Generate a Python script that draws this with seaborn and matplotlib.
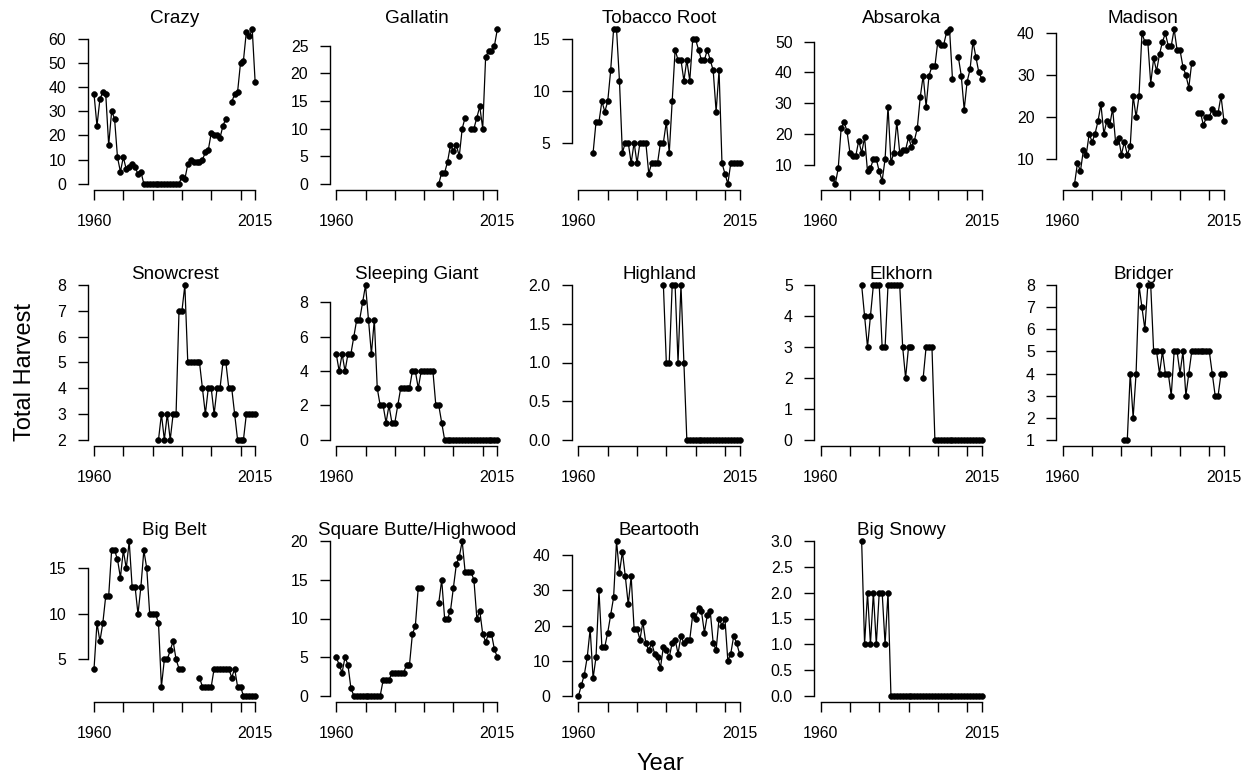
import numpy as np
import pandas as pd
import matplotlib
matplotlib.use("Agg")
import matplotlib.pyplot as plt
import seaborn as sns

nan = np.nan

# ---------------------------------------------------------------------------
# Data: annual total harvest per mountain range
# ---------------------------------------------------------------------------
mountains = ["Crazy", "Gallatin", "Tobacco Root", "Absaroka", "Madison",
             "Snowcrest", "Sleeping Giant", "Highland", "Elkhorn", "Bridger",
             "Big Belt", "Square Butte/Highwood", "Beartooth", "Big Snowy"]
first_year = [1960, 1995, 1965, 1964, 1964,
              1982, 1960, 1989, 1974, 1981,
              1960, 1960, 1960, 1974]

crazy = [37, 24, 35, 38, 37, 16, 30, 27, 11, 5,
         11, 6, 7, 8, 7, 4, 5, 0, 0, 0,
         0, 0, 0, 0, 0, 0, 0, 0, 0, 0,
         3, 2, 8, 10, 9, 9, 9, 10, 13, 14,
         21, 20, 20, 19, 24, 27, nan, 34, 37, 38,
         50, 51, 63, 61, 64, 42]
gallatin = [0, 2, 2, 4, 7, 6, 7, 5, 10, 12, nan, 10, 10, 12, 14, 10, 23, 24, 24, 25, 28]
tobacco_root = [4, 7, 7, 9, 8, 9, 12, 16, 16, 11,
                4, 5, 5, 3, 5, 3, 5, 5, 5, 2,
                3, 3, 3, 5, 5, 7, 4, 9, 14, 13,
                13, 11, 13, 11, 15, 15, 14, 13, 13, 14,
                13, 12, 8, 12, 3, 2, 1, 3, 3, 3, 3]
absaroka = [6, 4, 9, 22, 24, 21, 14, 13, 13, 18,
            14, 19, 8, 9, 12, 12, 8, 5, 12, 29,
            11, 14, 24, 14, 15, 15, 19, 16, 18, 22,
            32, 39, 29, 39, 42, 42, 50, 49, 49, 53,
            54, 38, nan, 45, 39, 28, 37, 41, 50, 45, 40, 38]
madison = [4, 9, 7, 12, 11, 16, 14, 16, 19, 23,
           16, 19, 18, 22, 14, 15, 11, 14, 11, 13,
           25, 20, 25, 40, 38, 38, 28, 34, 31, 35,
           38, 40, 37, 37, 41, 36, 36, 32, 30, 27,
           33, nan, 21, 21, 18, 20, 20, 22, 21, 21, 25, 19]
snowcrest = [2, 3, 2, 3, 2, 3, 3, 7, 7, 8,
             5, 5, 5, 5, 5, 4, 3, 4, 4, 3,
             4, 4, 5, 5, 4, 4, 3, 2, 2, 2,
             3, 3, 3, 3]
sleeping_giant = [5, 4, 5, 4, 5, 5, 6, 7, 7, 8,
                  9, 7, 5, 7, 3, 2, 2, 1, 2, 1,
                  1, 2, 3, 3, 3, 3, 4, 4, 3, 4,
                  4, 4, 4, 4, 2, 2, 1, 0, 0, 0,
                  0, 0, 0, 0, 0, 0, 0, 0, 0, 0,
                  0, 0, 0, 0, 0, 0]
highland = [2, 1, 1, 2, 2, 1, 2, 1,
            0, 0, 0, 0, 0, 0, 0, 0, 0, 0,
            0, 0, 0, 0, 0, 0, 0, 0, 0]
elkhorn = [5, 4, 3, 4, 5, 5, 5, 3, 3, 5,
           5, 5, 5, 5, 3, 2, 3, 3, nan, nan,
           nan, 2, 3, 3, 3, 0, 0, 0, 0, 0,
           0, 0, 0, 0, 0, 0, 0, 0, 0, 0, 0, 0]
bridger = [1, 1, 4, 2, 4, 8, 7, 6, 8, 8,
           5, 5, 4, 5, 4, 4, 3, 5, 5, 4,
           5, 3, 4, 5, 5, 5, 5, 5, 5, 5,
           4, 3, 3, 4, 4]
big_belt = [4, 9, 7, 9, 12, 12, 17, 17, 16, 14,
            17, 15, 18, 13, 13, 10, 13, 17, 15, 10,
            10, 10, 9, 2, 5, 5, 6, 7, 5, 4,
            4, nan, nan, nan, nan, nan, 3, 2, 2, 2,
            2, 4, 4, 4, 4, 4, 4, 3, 4, 2,
            2, 1, 1, 1, 1, 1]
square_butte = [5, 4, 3, 5, 4, 1, 0, 0, 0, 0,
                0, 0, 0, 0, 0, 0, 2, 2, 2, 3,
                3, 3, 3, 3, 4, 4, 8, 9, 14, 14,
                nan, nan, nan, nan, nan, 12, 15, 10, 10, 11,
                14, 17, 18, 20, 16, 16, 16, 15, 10, 11,
                8, 7, 8, 8, 6, 5]
beartooth = [0, 3, 6, 11, 19, 5, 11, 30, 14, 14,
             18, 23, 28, 44, 35, 41, 34, 26, 34, 19,
             19, 16, 21, 15, 13, 15, 12, 11, 8, 14,
             13, 11, 15, 16, 12, 17, 15, 16, 16, 23,
             22, 25, 24, 18, 23, 24, 15, 13, 22, 20,
             22, 10, 12, 17, 15, 12]
big_snowy = [3, 1, 2, 1, 2, 1, 2, 2, 1, 2,
             0, 0, 0, 0, 0, 0, 0, 0, 0, 0,
             0, 0, 0, 0, 0, 0, 0, 0, 0, 0,
             0, 0, 0, 0, 0, 0, 0, 0, 0, 0, 0, 0]

series = [crazy, gallatin, tobacco_root, absaroka, madison,
          snowcrest, sleeping_giant, highland, elkhorn, bridger,
          big_belt, square_butte, beartooth, big_snowy]

y_ticks = [[0, 10, 20, 30, 40, 50, 60],
           [0, 5, 10, 15, 20, 25],
           [5, 10, 15],
           [10, 20, 30, 40, 50],
           [10, 20, 30, 40],
           [2, 3, 4, 5, 6, 7, 8],
           [0, 2, 4, 6, 8],
           [0, 0.5, 1.0, 1.5, 2.0],
           [0, 1, 2, 3, 4, 5],
           [1, 2, 3, 4, 5, 6, 7, 8],
           [5, 10, 15],
           [0, 5, 10, 15, 20],
           [0, 10, 20, 30, 40],
           [0, 0.5, 1.0, 1.5, 2.0, 2.5, 3.0]]

x_ticks = [1960, 1970, 1980, 1990, 2000, 2010, 2015]
x_ticklabels = ["1960", "", "", "", "", "", "2015"]


def long_frame(name, start, values):
    v = pd.Series(values, dtype=float)
    df = pd.DataFrame({
        "mountain": name,
        "year": np.arange(start, start + len(values)),
        "harvest": v,
        "seg": v.isna().cumsum(),   # break the line at missing years
    })
    return df.dropna(subset=["harvest"])


harvest = pd.concat([long_frame(n, s, v) for n, s, v in zip(mountains, first_year, series)],
                    ignore_index=True)

# ---------------------------------------------------------------------------
# Style (base-R look)
# ---------------------------------------------------------------------------
sns.set_theme(style="ticks")
plt.rcParams['font.family'] = ['Liberation Sans', 'DejaVu Sans']
plt.rcParams['text.color'] = 'black'
plt.rcParams['axes.edgecolor'] = 'black'
plt.rcParams['xtick.color'] = 'black'
plt.rcParams['ytick.color'] = 'black'

W, H = 1251, 776
fig = plt.figure(figsize=(W / 100, H / 100), dpi=100)

pw, ph = 174, 167
for i, name in enumerate(mountains):
    r, c = divmod(i, 5)
    left = (87.6 + 242.2 * c) / W
    bottom = 1 - (190 + 256 * r) / H
    ax = fig.add_axes([left, bottom, pw / W, ph / H])

    d = harvest[harvest["mountain"] == name]
    sns.lineplot(data=d, x="year", y="harvest", units="seg", estimator=None,
                 color="black", lw=0.9, marker="o", markersize=4.2,
                 markeredgecolor="black", markeredgewidth=0.4, ax=ax)

    lo, hi = d["harvest"].min(), d["harvest"].max()
    ext = 0.04 * (hi - lo)
    ax.set_ylim(lo - ext, hi + ext)
    ax.set_xlim(1960 - 2.2, 2015 + 2.2)

    ticks = y_ticks[i]
    ax.set_yticks(ticks)
    if any(t != int(t) for t in ticks):
        ax.set_yticklabels([f"{t:.1f}" for t in ticks])
    else:
        ax.set_yticklabels([f"{t:g}" for t in ticks])
    ax.set_xticks(x_ticks)
    ax.set_xticklabels(x_ticklabels)

    for s in ["top", "right"]:
        ax.spines[s].set_visible(False)
    ax.spines["left"].set_bounds(ticks[0], ticks[-1])
    ax.spines["bottom"].set_bounds(1960, 2015)
    for s in ["left", "bottom"]:
        ax.spines[s].set_linewidth(1.0)
    ax.tick_params(direction="out", length=7, width=1.0, labelsize=11.4)
    ax.tick_params(axis="y", pad=8.5)
    ax.tick_params(axis="x", pad=10)

    ax.set_xlabel("")
    ax.set_ylabel("")
    # fixed y so matplotlib does not push the title up
    ax.set_title(name, fontsize=13.6, y=1.0, pad=0)

fig.text(0.020, 0.521, "Total Harvest", rotation=90, ha="center", va="center", fontsize=17)
fig.text(0.5276, 0.0155, "Year", ha="center", va="center", fontsize=17)

fig.savefig("out.png", dpi=100)
